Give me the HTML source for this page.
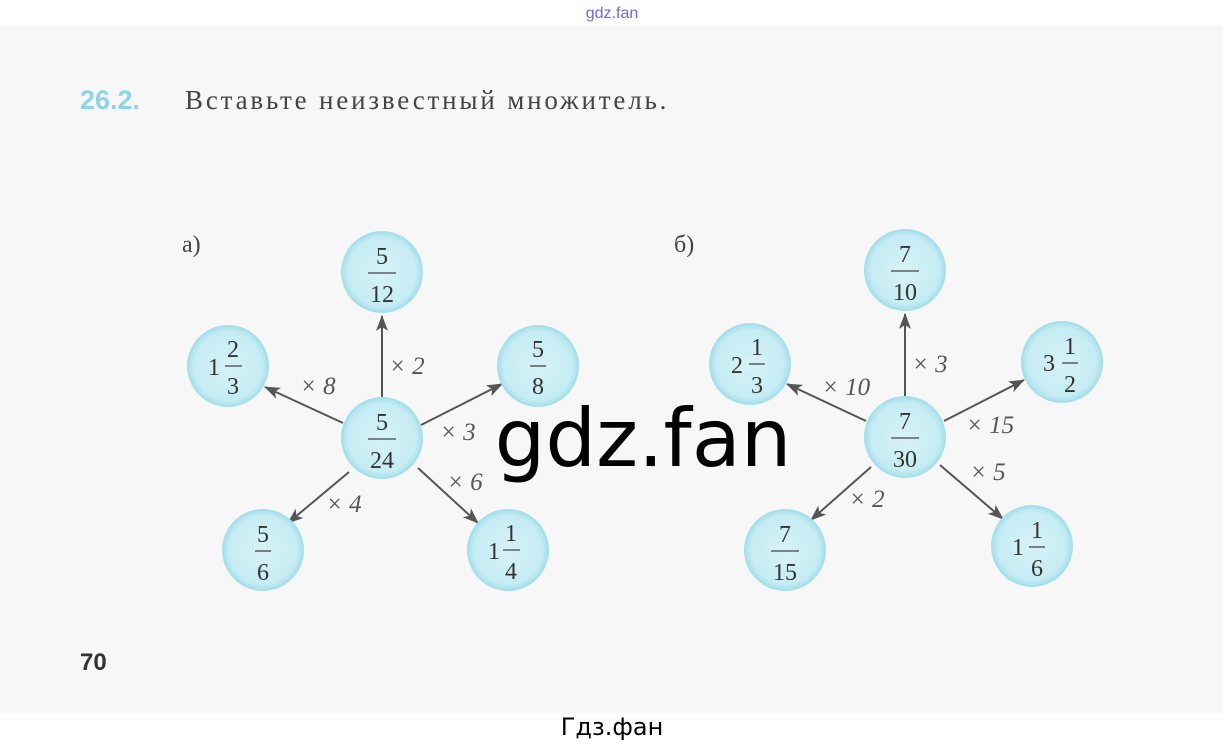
<!DOCTYPE html>
<html><head><meta charset="utf-8"><style>
html,body{margin:0;padding:0;width:1223px;height:746px;overflow:hidden;background:#fff}
svg{display:block}
.f{font-family:"Liberation Serif",serif;font-size:24px;fill:#333;text-anchor:middle}
.h{font-family:"Liberation Serif",serif;font-style:italic;font-size:25px;fill:#555}
</style></head><body>
<svg width="1223" height="746" viewBox="0 0 1223 746" xmlns="http://www.w3.org/2000/svg">
<defs>
<marker id="a" viewBox="0 0 16 12" refX="15" refY="6" markerWidth="16" markerHeight="12" markerUnits="userSpaceOnUse" orient="auto"><path d="M0,0L16,6L0,12L4,6z" fill="#555"/></marker>
<radialGradient id="g" cx="50%" cy="50%" r="50%"><stop offset="0" stop-color="#d6f2f7"/><stop offset="0.85" stop-color="#c6ecf4"/><stop offset="1" stop-color="#a8e0ec"/></radialGradient>
</defs>
<rect x="0" y="25" width="1223" height="688" fill="#f7f7f7"/>
<text x="612" y="18" font-family="Liberation Sans,sans-serif" font-size="16" fill="#6a6adf" text-anchor="middle">gdz.fan</text>
<text x="80" y="109" font-family="Liberation Sans,sans-serif" font-weight="bold" font-size="27" fill="#8fd3ea">26.2.</text>
<text x="185" y="109" font-family="Liberation Serif,serif" font-size="27" letter-spacing="1.6" fill="#444" textLength="483" lengthAdjust="spacing">Вставьте неизвестный множитель.</text>
<text x="182" y="252" font-family="Liberation Serif,serif" font-size="24" fill="#444">а)</text>
<text x="674" y="252" font-family="Liberation Serif,serif" font-size="24" fill="#444">б)</text>
<text x="80" y="670" font-family="Liberation Sans,sans-serif" font-weight="bold" font-size="24" fill="#333">70</text>
<g stroke="#555" stroke-width="2" marker-end="url(#a)">
<line x1="382" y1="398" x2="382" y2="316"/>
<line x1="343" y1="423" x2="265" y2="387"/>
<line x1="421" y1="425" x2="502" y2="384"/>
<line x1="349" y1="472" x2="288" y2="523"/>
<line x1="418" y1="468" x2="478" y2="523"/>
<line x1="905" y1="397" x2="905" y2="314"/>
<line x1="866" y1="421" x2="787" y2="384"/>
<line x1="944" y1="421" x2="1024" y2="380"/>
<line x1="871" y1="467" x2="811" y2="520"/>
<line x1="940" y1="465" x2="1003" y2="519"/>
</g>
<g fill="url(#g)" stroke="#a6e0ea" stroke-width="2">
<circle cx="382" cy="272" r="40"/><circle cx="228" cy="366" r="40"/><circle cx="538" cy="366" r="40"/>
<circle cx="382" cy="438" r="40"/><circle cx="263" cy="550" r="40"/><circle cx="508" cy="550" r="40"/>
<circle cx="905" cy="270" r="40"/><circle cx="750" cy="364" r="40"/><circle cx="1062" cy="362" r="40"/>
<circle cx="905" cy="437" r="40"/><circle cx="785" cy="550" r="40"/><circle cx="1032" cy="546" r="40"/>
</g>
<g stroke="#444" stroke-width="1.3">
<line x1="368" y1="273" x2="396" y2="273"/><line x1="225" y1="366" x2="242" y2="366"/><line x1="530" y1="366" x2="546" y2="366"/>
<line x1="368" y1="439" x2="396" y2="439"/><line x1="255" y1="551" x2="271" y2="551"/><line x1="503" y1="550" x2="520" y2="550"/>
<line x1="891" y1="271" x2="919" y2="271"/><line x1="749" y1="364" x2="765" y2="364"/><line x1="1062" y1="363" x2="1078" y2="363"/>
<line x1="891" y1="438" x2="919" y2="438"/><line x1="771" y1="551" x2="799" y2="551"/><line x1="1029" y1="547" x2="1045" y2="547"/>
</g>
<g class="f">
<text x="382" y="264" class="f">5</text><text x="382" y="302" class="f">12</text>
<text x="214" y="375" class="f">1</text><text x="233" y="357" class="f">2</text><text x="233" y="394" class="f">3</text>
<text x="538" y="357" class="f">5</text><text x="538" y="394" class="f">8</text>
<text x="382" y="430" class="f">5</text><text x="382" y="468" class="f">24</text>
<text x="263" y="542" class="f">5</text><text x="263" y="580" class="f">6</text>
<text x="494" y="559" class="f">1</text><text x="511" y="541" class="f">1</text><text x="511" y="579" class="f">4</text>
<text x="905" y="262" class="f">7</text><text x="905" y="300" class="f">10</text>
<text x="737" y="373" class="f">2</text><text x="757" y="355" class="f">1</text><text x="757" y="393" class="f">3</text>
<text x="1049" y="371" class="f">3</text><text x="1070" y="354" class="f">1</text><text x="1070" y="392" class="f">2</text>
<text x="905" y="429" class="f">7</text><text x="905" y="467" class="f">30</text>
<text x="785" y="542" class="f">7</text><text x="785" y="580" class="f">15</text>
<text x="1018" y="555" class="f">1</text><text x="1037" y="538" class="f">1</text><text x="1037" y="576" class="f">6</text>
</g>
<g class="h">
<text x="389" y="374" class="h">× 2</text>
<text x="300" y="394" class="h">× 8</text>
<text x="440" y="440" class="h">× 3</text>
<text x="447" y="490" class="h">× 6</text>
<text x="326" y="512" class="h">× 4</text>
<text x="912" y="372" class="h">× 3</text>
<text x="822" y="395" class="h">× 10</text>
<text x="966" y="433" class="h">× 15</text>
<text x="970" y="480" class="h">× 5</text>
<text x="849" y="507" class="h">× 2</text>
</g>
<text x="643" y="466" font-family="DejaVu Sans,sans-serif" font-size="80" fill="#000" text-anchor="middle">gdz.fan</text>
<text x="612" y="735" font-family="DejaVu Sans,sans-serif" font-size="24" fill="#000" text-anchor="middle">Гдз.фан</text>
</svg>
</body></html>
